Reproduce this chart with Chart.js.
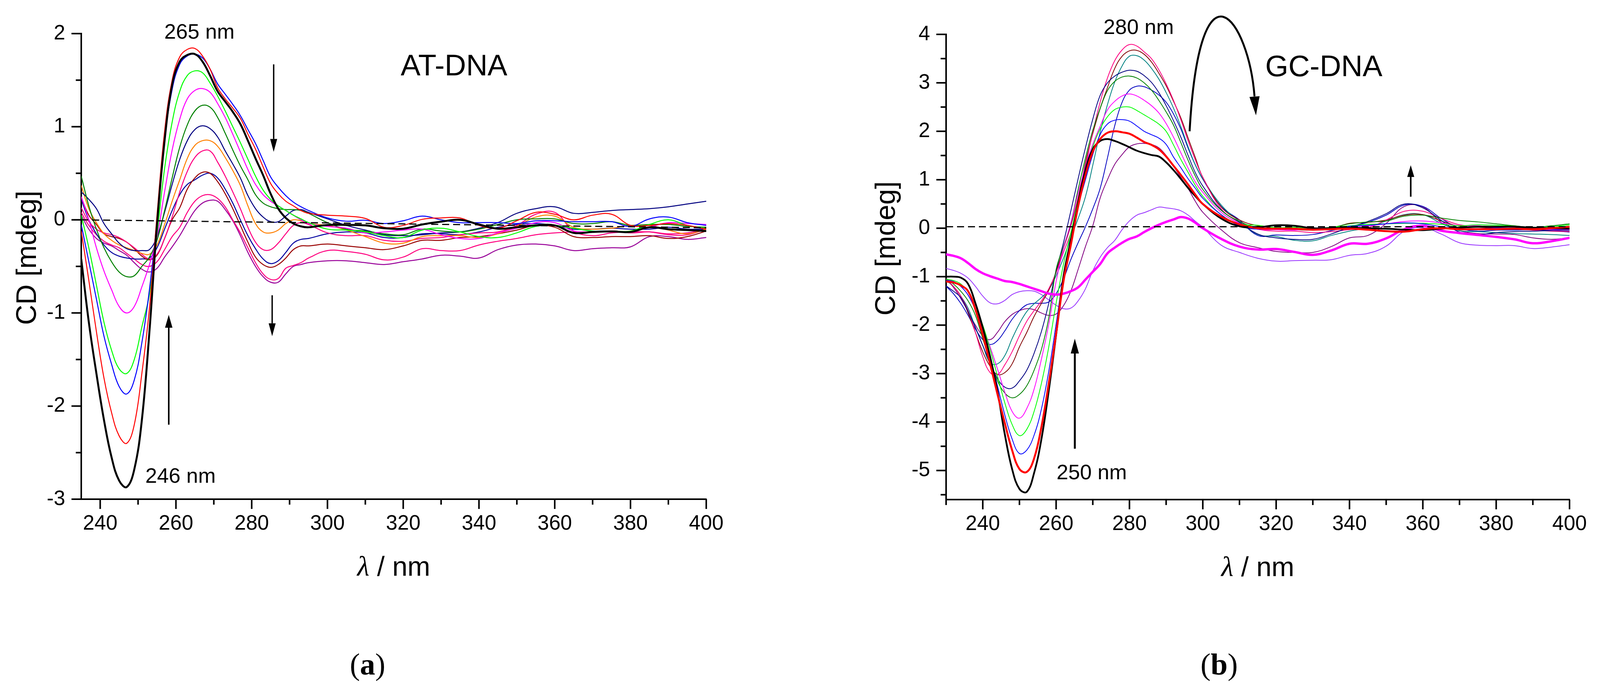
<!DOCTYPE html>
<html>
<head>
<meta charset="utf-8">
<script src="https://cdn.jsdelivr.net/npm/chart.js@4.4.1/dist/chart.umd.min.js"></script>
<style>
  html, body { margin: 0; padding: 0; background: #fff; }
  body { position: relative; width: 4103px; height: 1787px; overflow: hidden; }
  canvas { position: absolute; top: 0; }
  #cdA { left: 0; }
  #cdB { left: 2214px; }
  .cap { position: absolute; top: 1662px; font-family: "Liberation Serif", "Times New Roman", serif; font-size: 78px; line-height: 78px; transform: translateX(-50%); color: #000; }
</style>
</head>
<body>
<canvas id="cdA" width="2000" height="1560" style="width:2000px;height:1560px"></canvas>
<canvas id="cdB" width="1889" height="1560" style="width:1889px;height:1560px"></canvas>
<div class="cap" style="left:941px">(<b>a</b>)</div>
<div class="cap" style="left:3121px">(<b>b</b>)</div>
<script>
// ---------- (a) AT-DNA ----------
const wlA = [235, 237, 239, 241, 243, 245, 247, 249, 251, 253, 255, 257, 259, 261, 263, 265, 267, 269, 271, 273,
  275, 277, 279, 281, 283, 285, 287, 289, 291, 293, 295,
  300, 305, 310, 315, 320, 325, 330, 335, 340, 345, 350, 355, 360, 365, 370, 375, 380, 385, 390, 395, 400];

const atBlack = [-0.42, -1.1, -1.65, -2.15, -2.55, -2.8, -2.87, -2.68, -2.15, -1.2, -0.05, 0.85, 1.45, 1.7, 1.77, 1.78, 1.7, 1.55, 1.38, 1.27,
  1.16, 1.03, 0.85, 0.66, 0.48, 0.28, 0.12, 0.02, -0.04, -0.07, -0.08,
  -0.055, -0.055, -0.06, -0.09, -0.095, -0.05, -0.02, 0.0, -0.05, -0.095, -0.08, -0.06, -0.06, -0.14, -0.13, -0.125, -0.13, -0.08, -0.1, -0.11, -0.12];
const atRed = [-0.12, -0.65, -1.2, -1.7, -2.07, -2.32, -2.4, -2.2, -1.65, -0.95, 0.05, 0.95, 1.5, 1.75, 1.83, 1.84, 1.76, 1.62, 1.42, 1.3,
  1.2, 1.09, 0.92, 0.76, 0.57, 0.39, 0.28, 0.2, 0.15, 0.1, 0.07,
  0.05, 0.04, 0.015, -0.08, -0.06, 0.005, 0.02, 0.02, -0.06, -0.09, -0.01, 0.08, 0.06, 0.0, 0.05, 0.06, -0.06, -0.06, -0.04, -0.06, -0.1];
const atBlue = [-0.05, -0.45, -0.85, -1.25, -1.55, -1.79, -1.87, -1.72, -1.32, -0.75, 0.0, 0.85, 1.4, 1.67, 1.76, 1.78, 1.74, 1.62, 1.46, 1.35,
  1.24, 1.12, 0.97, 0.82, 0.64, 0.46, 0.35, 0.26, 0.19, 0.14, 0.1,
  0.02, -0.015, -0.005, -0.04, -0.01, 0.04, 0.0, -0.03, -0.03, -0.03, -0.04, -0.01, -0.01, -0.02, -0.02, -0.02, -0.07, 0.01, 0.03, -0.03, -0.06];
const atLime = [0.05, -0.3, -0.7, -1.1, -1.4, -1.6, -1.65, -1.5, -1.15, -0.8, -0.15, 0.55, 1.05, 1.38, 1.55, 1.6, 1.58, 1.47, 1.33, 1.17,
  1.0, 0.83, 0.65, 0.47, 0.32, 0.22, 0.15, 0.1, 0.05, 0.01, -0.03,
  -0.1, -0.11, -0.13, -0.17, -0.19, -0.11, -0.09, -0.13, -0.18, -0.19, -0.14, -0.07, -0.06, -0.09, -0.12, -0.12, -0.12, -0.05, 0.0, -0.06, -0.09];
const atMagenta = [0.25, 0.0, -0.3, -0.55, -0.75, -0.93, -1.0, -0.93, -0.72, -0.48, -0.18, 0.3, 0.75, 1.08, 1.3, 1.39, 1.41, 1.37, 1.25, 1.1,
  0.92, 0.73, 0.54, 0.38, 0.27, 0.2, 0.15, 0.1, 0.05, 0.0, -0.04,
  -0.07, -0.09, -0.14, -0.13, -0.11, -0.1, -0.16, -0.2, -0.2, -0.14, -0.09, -0.03, -0.03, -0.12, -0.13, -0.12, -0.13, -0.08, -0.03, -0.04, -0.05];
const atGreen = [0.47, 0.15, -0.1, -0.3, -0.45, -0.56, -0.61, -0.6, -0.5, -0.4, -0.22, 0.1, 0.45, 0.78, 1.02, 1.17, 1.23, 1.21, 1.1, 0.93,
  0.75, 0.58, 0.43, 0.27, 0.18, 0.14, 0.12, 0.11, 0.11, 0.1, 0.07,
  -0.03, -0.1, -0.12, -0.15, -0.16, -0.1, -0.12, -0.13, -0.1, -0.05, 0.0, 0.01, 0.01, -0.04, -0.04, -0.02, -0.06, -0.05, -0.05, -0.07, -0.08];
const atNavy = [0.3, 0.22, 0.12, -0.04, -0.15, -0.25, -0.31, -0.33, -0.33, -0.32, -0.18, 0.08, 0.38, 0.65, 0.85, 0.97, 1.01, 0.98, 0.89, 0.74,
  0.6, 0.45, 0.26, 0.12, 0.03, -0.02, -0.02, 0.04, 0.1, 0.11, 0.08,
  0.01, -0.06, -0.11, -0.16, -0.17, -0.16, -0.14, -0.13, -0.09, -0.03, 0.07, 0.12, 0.14, 0.07, 0.08, 0.1, 0.11, 0.12, 0.14, 0.17, 0.2];
const atOrange = [0.37, 0.12, -0.03, -0.15, -0.22, -0.27, -0.3, -0.33, -0.36, -0.37, -0.27, -0.05, 0.2, 0.43, 0.66, 0.8, 0.85, 0.85, 0.79, 0.67,
  0.53, 0.37, 0.15, -0.04, -0.13, -0.14, -0.11, -0.04, 0.0, -0.01, -0.04,
  -0.06, -0.11, -0.18, -0.25, -0.25, -0.18, -0.17, -0.17, -0.19, -0.15, -0.07, 0.03, 0.04, -0.08, -0.1, -0.09, -0.06, -0.06, -0.11, -0.15, -0.1];
const atPink = [0.13, -0.02, -0.1, -0.14, -0.16, -0.19, -0.24, -0.3, -0.37, -0.42, -0.37, -0.2, 0.03, 0.3, 0.52, 0.67, 0.74, 0.74, 0.62, 0.47,
  0.3, 0.12, -0.08, -0.24, -0.32, -0.32, -0.25, -0.15, -0.06, -0.03, -0.05,
  -0.14, -0.17, -0.17, -0.22, -0.23, -0.2, -0.19, -0.16, -0.14, -0.13, -0.06, 0.06, 0.08, -0.12, -0.17, -0.14, -0.13, -0.13, -0.16, -0.16, -0.1];
const atMaroon = [0.24, 0.05, -0.05, -0.15, -0.18, -0.2, -0.24, -0.31, -0.39, -0.43, -0.38, -0.2, 0.0, 0.13, 0.33, 0.45, 0.51, 0.5, 0.41, 0.28,
  0.12, -0.06, -0.24, -0.4, -0.48, -0.51, -0.48, -0.41, -0.32, -0.28, -0.28,
  -0.26, -0.28, -0.3, -0.32, -0.28, -0.22, -0.22, -0.19, -0.18, -0.15, -0.11, -0.06, -0.08, -0.18, -0.19, -0.18, -0.18, -0.17, -0.2, -0.18, -0.12];
const atNavy2 = [0.22, 0.0, -0.15, -0.27, -0.35, -0.39, -0.41, -0.42, -0.42, -0.41, -0.3, -0.1, 0.1, 0.27, 0.38, 0.43, 0.48, 0.5, 0.45, 0.33,
  0.18, 0.0, -0.17, -0.31, -0.42, -0.47, -0.44, -0.35, -0.25, -0.21, -0.2,
  -0.15, -0.13, -0.14, -0.19, -0.19, -0.15, -0.15, -0.16, -0.13, -0.08, -0.05, -0.04, -0.06, -0.1, -0.1, -0.09, -0.1, -0.1, -0.08, -0.1, -0.1];
const atPink2 = [0.08, -0.06, -0.16, -0.23, -0.27, -0.3, -0.36, -0.42, -0.48, -0.5, -0.45, -0.32, -0.18, -0.08, 0.08, 0.2, 0.26, 0.27, 0.23, 0.14,
  0.0, -0.14, -0.3, -0.46, -0.58, -0.64, -0.63, -0.52, -0.49, -0.46, -0.41,
  -0.33, -0.34, -0.37, -0.43, -0.4, -0.31, -0.33, -0.33, -0.27, -0.23, -0.2, -0.16, -0.14, -0.13, -0.13, -0.12, -0.14, -0.13, -0.15, -0.14, -0.1];
const atPurple = [0.05, -0.1, -0.2, -0.25, -0.28, -0.33, -0.38, -0.46, -0.53, -0.56, -0.52, -0.4, -0.29, -0.17, -0.03, 0.1, 0.18, 0.21, 0.2, 0.11,
  -0.01, -0.17, -0.35, -0.5, -0.61, -0.67, -0.67, -0.58, -0.5, -0.48, -0.46,
  -0.44, -0.44, -0.46, -0.48, -0.45, -0.42, -0.38, -0.39, -0.41, -0.32, -0.27, -0.26, -0.28, -0.33, -0.31, -0.3, -0.29, -0.18, -0.18, -0.21, -0.19];
const zeroWlA = [235, 400];
const zeroA = [0, -0.085];

const xMajorA = [240, 260, 280, 300, 320, 340, 360, 380, 400];
const xMinorA = [250, 270, 290, 310, 330, 350, 370, 390];
const yMajorA = [-3, -2, -1, 0, 1, 2];
const yMinorA = [-2.5, -1.5, -0.5, 0.5, 1.5];

// ---------- (b) GC-DNA ----------
const wlB = [230, 232, 234, 236, 238, 240, 242, 244, 246, 248, 250, 252, 254, 256, 258, 260, 262, 264, 266, 268,
  270, 272, 274, 276, 278, 280, 282, 284, 286, 288, 290, 292, 294, 296, 298, 300,
  305, 310, 315, 320, 325, 330, 335, 340, 345, 350, 355, 360, 365, 370, 375, 380, 385, 390, 395, 400];

const gcBlack = [-1.0, -1.0, -1.02, -1.15, -1.55, -2.05, -2.65, -3.36, -4.25, -4.97, -5.38, -5.44, -5.05, -4.35, -3.35, -2.2, -1.0, -0.25, 0.5, 1.2,
  1.63, 1.8, 1.84, 1.8, 1.74, 1.67, 1.6, 1.55, 1.51, 1.48, 1.36, 1.2, 1.02, 0.83, 0.66, 0.5,
  0.2, 0.04, 0.02, 0.06, 0.05, 0.0, 0.0, 0.01, 0.0, -0.01, -0.03, -0.04, -0.01, 0.01, 0.03, 0.03, 0.03, 0.01, 0.0, -0.01];
const gcRed = [-1.1, -1.12, -1.18, -1.3, -1.68, -2.2, -2.8, -3.42, -4.02, -4.58, -4.97, -5.03, -4.75, -4.1, -3.2, -2.18, -1.1, -0.35, 0.45, 1.1,
  1.58, 1.84, 1.97, 2.0, 1.98, 1.95, 1.87, 1.78, 1.72, 1.63, 1.48, 1.29, 1.1, 0.9, 0.69, 0.5,
  0.24, 0.08, 0.0, -0.01, -0.01, -0.03, -0.02, -0.01, -0.03, -0.06, -0.07, -0.02, 0.0, -0.02, -0.02, -0.02, -0.01, -0.02, 0.0, 0.03];
const gcBlue = [-1.08, -1.1, -1.2, -1.38, -1.68, -2.08, -2.65, -3.25, -3.85, -4.35, -4.65, -4.58, -4.27, -3.73, -2.95, -1.98, -0.98, -0.22, 0.45, 1.0,
  1.52, 1.93, 2.15, 2.23, 2.24, 2.21, 2.11, 2.0, 1.93, 1.86, 1.73, 1.47, 1.25, 1.02, 0.82, 0.62,
  0.28, 0.05, -0.02, 0.0, 0.0, -0.03, -0.01, 0.04, 0.06, 0.09, 0.11, 0.09, 0.03, -0.01, -0.01, 0.0, 0.0, 0.01, -0.02, -0.02];
const gcLime = [-1.05, -1.08, -1.15, -1.32, -1.65, -2.0, -2.5, -3.05, -3.6, -4.05, -4.28, -4.15, -3.78, -3.2, -2.45, -1.55, -0.75, -0.1, 0.55, 1.18,
  1.68, 2.05, 2.3, 2.45, 2.5, 2.5, 2.43, 2.34, 2.25, 2.15, 2.0, 1.72, 1.42, 1.15, 0.88, 0.66,
  0.28, 0.09, 0.06, 0.01, 0.02, -0.01, 0.02, 0.05, 0.08, 0.09, 0.1, 0.1, 0.08, 0.05, 0.07, 0.06, 0.04, 0.01, 0.03, 0.07];
const gcMagenta = [-1.05, -1.1, -1.2, -1.38, -1.68, -2.03, -2.45, -2.9, -3.38, -3.78, -3.92, -3.72, -3.32, -2.7, -1.98, -1.1, -0.42, 0.1, 0.72, 1.28,
  1.73, 2.1, 2.44, 2.62, 2.73, 2.77, 2.73, 2.64, 2.53, 2.38, 2.16, 1.88, 1.56, 1.24, 0.95, 0.74,
  0.33, 0.1, -0.02, -0.03, -0.04, 0.0, 0.01, 0.03, 0.05, 0.09, 0.14, 0.15, 0.11, 0.05, 0.05, 0.01, 0.0, -0.01, -0.03, -0.03];
const gcGreen = [-1.05, -1.15, -1.3, -1.5, -1.8, -2.28, -2.75, -3.15, -3.4, -3.5, -3.43, -3.25, -2.93, -2.5, -1.85, -0.85, -0.38, 0.1, 0.8, 1.45,
  2.02, 2.47, 2.84, 3.03, 3.12, 3.14, 3.1, 3.0, 2.85, 2.64, 2.4, 2.13, 1.77, 1.4, 1.07, 0.8,
  0.37, 0.14, 0.01, -0.01, -0.02, -0.03, 0.01, 0.09, 0.13, 0.15, 0.25, 0.27, 0.21, 0.16, 0.13, 0.09, 0.05, 0.02, 0.05, 0.09];
const gcNavy = [-1.19, -1.3, -1.43, -1.72, -2.05, -2.42, -2.78, -3.1, -3.28, -3.3, -3.15, -2.93, -2.58, -2.13, -1.55, -0.88, -0.3, 0.35, 1.02, 1.66,
  2.25, 2.74, 3.0, 3.14, 3.22, 3.26, 3.24, 3.15, 3.01, 2.8, 2.53, 2.22, 1.88, 1.5, 1.14, 0.87,
  0.38, 0.12, -0.12, -0.2, -0.23, -0.23, -0.12, 0.02, 0.14, 0.3, 0.5, 0.42, 0.16, -0.08, -0.13, -0.09, -0.07, -0.06, -0.05, -0.05];
const gcPink = [-1.05, -1.2, -1.4, -1.7, -2.15, -2.65, -2.98, -3.02, -2.82, -2.55, -2.22, -1.92, -1.7, -1.5, -1.25, -0.92, -0.5, -0.1, 0.45, 1.25,
  1.98, 2.6, 3.1, 3.46, 3.68, 3.79, 3.76, 3.64, 3.5, 3.27, 2.98, 2.64, 2.24, 1.8, 1.4, 1.05,
  0.4, 0.12, -0.02, -0.06, -0.06, -0.09, -0.07, -0.03, 0.01, 0.17, 0.35, 0.35, 0.2, 0.07, 0.04, 0.01, -0.01, -0.04, -0.06, -0.07];
const gcMaroon = [-1.05, -1.2, -1.4, -1.75, -2.15, -2.55, -2.85, -3.02, -2.98, -2.8, -2.45, -2.15, -1.82, -1.55, -1.28, -0.9, -0.42, 0.05, 0.62, 1.35,
  1.95, 2.47, 2.9, 3.3, 3.55, 3.66, 3.67, 3.59, 3.43, 3.2, 2.94, 2.62, 2.28, 1.86, 1.45, 1.05,
  0.44, 0.17, 0.05, 0.0, -0.03, -0.04, -0.01, 0.1, 0.12, 0.17, 0.27, 0.28, 0.15, 0.04, 0.02, 0.0, 0.0, -0.02, -0.03, 0.01];
const gcTeal = [-1.08, -1.2, -1.4, -1.65, -2.05, -2.42, -2.78, -2.8, -2.63, -2.28, -1.97, -1.72, -1.56, -1.43, -1.27, -0.98, -0.62, -0.2, 0.2, 0.65,
  1.3, 1.98, 2.55, 3.02, 3.35, 3.55, 3.56, 3.47, 3.3, 3.08, 2.8, 2.48, 2.1, 1.68, 1.3, 1.02,
  0.48, 0.14, -0.13, -0.17, -0.25, -0.26, -0.15, -0.06, 0.01, 0.15, 0.28, 0.28, 0.1, -0.05, -0.07, -0.09, -0.11, -0.12, -0.13, -0.15];
const gcBlue2 = [-1.2, -1.35, -1.55, -1.8, -2.08, -2.3, -2.4, -2.32, -2.12, -1.88, -1.7, -1.58, -1.55, -1.55, -1.52, -1.35, -1.05, -0.65, -0.3, 0.03,
  0.4, 0.82, 1.45, 2.12, 2.6, 2.85, 2.93, 2.92, 2.85, 2.75, 2.6, 2.36, 2.05, 1.65, 1.3, 1.01,
  0.45, 0.17, -0.15, -0.14, -0.15, -0.13, -0.05, 0.03, 0.12, 0.27, 0.48, 0.45, 0.2, 0.0, -0.06, -0.04, -0.04, -0.03, -0.05, -0.08];
const gcPurple = [-1.05, -1.22, -1.45, -1.72, -2.0, -2.22, -2.3, -2.15, -1.93, -1.78, -1.7, -1.66, -1.68, -1.75, -1.8, -1.77, -1.6, -1.3, -0.85, -0.38,
  0.05, 0.62, 1.0, 1.32, 1.52, 1.68, 1.74, 1.75, 1.73, 1.66, 1.5, 1.28, 1.05, 0.82, 0.55, 0.33,
  -0.03, -0.3, -0.4, -0.48, -0.5, -0.5, -0.38, -0.2, -0.15, 0.1, 0.45, 0.44, 0.12, -0.05, -0.11, -0.12, -0.13, -0.2, -0.23, -0.2];
const gcViolet = [-0.83, -0.87, -0.93, -1.03, -1.2, -1.4, -1.54, -1.56, -1.49, -1.37, -1.31, -1.29, -1.3, -1.37, -1.48, -1.59, -1.66, -1.65, -1.5, -1.25,
  -0.88, -0.6, -0.4, -0.25, -0.03, 0.15, 0.27, 0.32, 0.38, 0.435, 0.42, 0.4, 0.36, 0.27, 0.14, 0.02,
  -0.35, -0.5, -0.62, -0.68, -0.67, -0.66, -0.65, -0.56, -0.52, -0.37, -0.06, 0.01, -0.12, -0.3, -0.35, -0.36, -0.36, -0.42, -0.39, -0.34];
const gcMagentaBold = [-0.54, -0.57, -0.62, -0.72, -0.84, -0.93, -0.99, -1.04, -1.09, -1.11, -1.15, -1.2, -1.25, -1.3, -1.35, -1.37, -1.35, -1.3, -1.22, -1.06,
  -0.9, -0.74, -0.52, -0.4, -0.3, -0.22, -0.17, -0.08, 0.0, 0.07, 0.13, 0.18, 0.23, 0.2, 0.11, 0.0,
  -0.22, -0.38, -0.44, -0.43, -0.49, -0.55, -0.46, -0.32, -0.32, -0.21, -0.02, 0.05, -0.05, -0.1, -0.14, -0.18, -0.23, -0.31, -0.27, -0.2];
const zeroWlB = [230, 400];
const zeroB = [0.03, 0.03];

const xMajorB = [240, 260, 280, 300, 320, 340, 360, 380, 400];
const xMinorB = [230, 250, 270, 290, 310, 330, 350, 370, 390];
const yMajorB = [-5, -4, -3, -2, -1, 0, 1, 2, 3, 4];
const yMinorB = [-5.5, -4.5, -3.5, -2.5, -1.5, -0.5, 0.5, 1.5, 2.5, 3.5];

// ---------- drawing ----------
const SANS = '"Liberation Sans", Arial, sans-serif';
const tickFont = { family: SANS, size: 53 };

function line(wl, vals, color, width) {
  return {
    data: wl.map((x, i) => ({ x: x, y: vals[i] })),
    borderColor: color, borderWidth: width,
    pointRadius: 0, fill: false, tension: 0.4
  };
}

function dashed(wl, vals) {
  return {
    data: wl.map((x, i) => ({ x: x, y: vals[i] })),
    borderColor: '#000', borderWidth: 3, borderDash: [18, 10],
    pointRadius: 0, fill: false, tension: 0
  };
}

function drawArrow(ctx, x0, y0, x1, y1, lw, hl, hw) {
  const a = Math.atan2(y1 - y0, x1 - x0);
  const bx = x1 - hl * Math.cos(a), by = y1 - hl * Math.sin(a);
  ctx.lineWidth = lw;
  ctx.beginPath(); ctx.moveTo(x0, y0); ctx.lineTo(bx, by); ctx.stroke();
  drawHead(ctx, x1, y1, a, hl, hw);
}

function drawHead(ctx, x1, y1, a, hl, hw) {
  const bx = x1 - hl * Math.cos(a), by = y1 - hl * Math.sin(a);
  ctx.beginPath();
  ctx.moveTo(x1, y1);
  ctx.lineTo(bx + hw / 2 * Math.sin(a), by - hw / 2 * Math.cos(a));
  ctx.lineTo(bx - hw / 2 * Math.sin(a), by + hw / 2 * Math.cos(a));
  ctx.closePath();
  ctx.fill();
}

const decor = {
  id: 'cdDecor',
  afterDraw(chart, args, o) {
    const { ctx, chartArea: ca } = chart;
    const sx = chart.scales.x, sy = chart.scales.y;
    const px = v => sx.getPixelForValue(v), py = v => sy.getPixelForValue(v);
    ctx.save();
    ctx.strokeStyle = '#000';
    ctx.fillStyle = '#000';
    ctx.lineCap = 'butt';

    // tick marks, major and minor
    ctx.lineWidth = 4;
    const seg = (a, b, c, d) => { ctx.beginPath(); ctx.moveTo(a, b); ctx.lineTo(c, d); ctx.stroke(); };
    o.xMajor.forEach(v => seg(px(v), ca.bottom, px(v), ca.bottom + 25));
    o.xMinor.forEach(v => seg(px(v), ca.bottom, px(v), ca.bottom + 14));
    o.yMajor.forEach(v => seg(ca.left, py(v), ca.left - 25, py(v)));
    o.yMinor.forEach(v => seg(ca.left, py(v), ca.left - 14, py(v)));

    // axis titles
    ctx.textAlign = 'center';
    ctx.textBaseline = 'middle';
    ctx.save();
    ctx.translate(ca.left + o.yTitle.dx, ca.top + o.yTitle.dy);
    ctx.rotate(-Math.PI / 2);
    ctx.font = '72px ' + SANS;
    ctx.fillText('CD [mdeg]', 0, 0);
    ctx.restore();

    const lam = 'λ', rest = ' / nm';
    ctx.font = 'italic 72px "Liberation Serif", serif';
    const w1 = ctx.measureText(lam).width;
    ctx.font = '70px ' + SANS;
    const w2 = ctx.measureText(rest).width;
    const cx = (ca.left + ca.right) / 2, by = ca.bottom + 196;
    ctx.textBaseline = 'alphabetic';
    ctx.textAlign = 'left';
    ctx.font = 'italic 72px "Liberation Serif", serif';
    ctx.fillText(lam, cx - (w1 + w2) / 2, by);
    ctx.font = '70px ' + SANS;
    ctx.fillText(rest, cx - (w1 + w2) / 2 + w1, by);

    // labels inside the plot
    ctx.textAlign = 'center';
    ctx.textBaseline = 'middle';
    o.texts.forEach(t => {
      ctx.font = t.size + 'px ' + SANS;
      ctx.fillText(t.text, px(t.x), py(t.y));
    });

    // straight arrows
    o.arrows.forEach(a => drawArrow(ctx, px(a.x0), py(a.y0), px(a.x1), py(a.y1), a.lw, a.hl, a.hw));

    // curved arrow
    (o.curves || []).forEach(c => {
      const P = c.pts.map(p => [px(p[0]), py(p[1])]);
      ctx.lineWidth = c.lw;
      ctx.beginPath();
      ctx.moveTo(P[0][0], P[0][1]);
      ctx.bezierCurveTo(P[1][0], P[1][1], P[2][0], P[2][1], P[3][0], P[3][1]);
      ctx.stroke();
      const tx = px(c.tip[0]), ty = py(c.tip[1]);
      const a = Math.atan2(ty - P[3][1], tx - P[3][0]);
      drawHead(ctx, tx, ty, a, c.hl, c.hw);
    });
    ctx.restore();
  }
};

function makeChart(id, cfg) {
  const ds = cfg.datasets;
  return new Chart(document.getElementById(id), {
    type: 'line',
    data: { datasets: ds },
    plugins: [decor],
    options: {
      responsive: false,
      devicePixelRatio: 1,
      animation: false,
      events: [],
      layout: { padding: cfg.padding },
      plugins: {
        legend: { display: false },
        tooltip: { enabled: false },
        cdDecor: cfg.decor
      },
      scales: {
        x: {
          type: 'linear', min: cfg.xMin, max: 400,
          afterBuildTicks: s => { s.ticks = cfg.decor.xMajor.map(v => ({ value: v })); },
          afterFit: s => { s.height = 120; s.paddingLeft = 0; s.paddingRight = 0; },
          grid: { display: false, drawTicks: false },
          border: { display: true, color: '#000', width: 4 },
          ticks: { font: tickFont, color: '#000', padding: 32, maxRotation: 0, autoSkip: false }
        },
        y: {
          type: 'linear', min: cfg.yMin, max: cfg.yMax,
          afterBuildTicks: s => { s.ticks = cfg.decor.yMajor.map(v => ({ value: v })); },
          afterFit: s => { s.width = 208; s.paddingTop = 0; s.paddingBottom = 0; },
          grid: { display: false, drawTicks: false },
          border: { display: true, color: '#000', width: 4 },
          ticks: { font: tickFont, color: '#000', padding: 41, autoSkip: false }
        }
      }
    }
  });
}

makeChart('cdA', {
  xMin: 235, yMin: -3, yMax: 2,
  padding: { left: 0, top: 86, right: 192, bottom: 162 },
  datasets: [
    dashed(zeroWlA, zeroA),
    line(wlA, atBlack, '#000000', 5),
    line(wlA, atRed, '#ff0000', 2.5),
    line(wlA, atBlue, '#0000ff', 2.5),
    line(wlA, atLime, '#00ff00', 2.5),
    line(wlA, atMagenta, '#ff00ff', 2.5),
    line(wlA, atGreen, '#008000', 2.5),
    line(wlA, atNavy, '#000080', 2.5),
    line(wlA, atOrange, '#ff8000', 2.5),
    line(wlA, atPink, '#ff0080', 2.5),
    line(wlA, atMaroon, '#990000', 2.5),
    line(wlA, atNavy2, '#0000a0', 2.5),
    line(wlA, atPink2, '#ff0080', 2.5),
    line(wlA, atPurple, '#990099', 2.5)
  ],
  decor: {
    xMajor: xMajorA, xMinor: xMinorA, yMajor: yMajorA, yMinor: yMinorA,
    yTitle: { dx: -136, dy: 574 },
    texts: [
      { text: '265 nm', x: 266.2, y: 2.01, size: 54 },
      { text: '246 nm', x: 261.2, y: -2.76, size: 54 },
      { text: 'AT-DNA', x: 333.4, y: 1.64, size: 76 }
    ],
    arrows: [
      { x0: 285.8, y0: 1.67, x1: 285.8, y1: 0.73, lw: 3.5, hl: 33, hw: 18 },
      { x0: 285.4, y0: -0.81, x1: 285.4, y1: -1.25, lw: 3.5, hl: 33, hw: 18 },
      { x0: 258.1, y0: -2.2, x1: 258.1, y1: -1.02, lw: 4, hl: 33, hw: 19 }
    ]
  }
});

makeChart('cdB', {
  xMin: 230, yMin: -5.6, yMax: 4,
  padding: { left: 0, top: 88, right: 85, bottom: 161 },
  datasets: [
    dashed(zeroWlB, zeroB),
    line(wlB, gcRed, '#ff0000', 5),
    line(wlB, gcBlack, '#000000', 4.5),
    line(wlB, gcMagentaBold, '#ff00ff', 6),
    line(wlB, gcBlue, '#0000ff', 2),
    line(wlB, gcLime, '#00ff00', 2),
    line(wlB, gcMagenta, '#ff00ff', 2),
    line(wlB, gcGreen, '#008000', 2),
    line(wlB, gcNavy, '#000080', 2),
    line(wlB, gcPink, '#ff0080', 2),
    line(wlB, gcMaroon, '#800000', 2),
    line(wlB, gcTeal, '#008080', 2),
    line(wlB, gcBlue2, '#0000c0', 2),
    line(wlB, gcPurple, '#800080', 2),
    line(wlB, gcViolet, '#9933ff', 2)
  ],
  decor: {
    xMajor: xMajorB, xMinor: xMinorB, yMajor: yMajorB, yMinor: yMinorB,
    yTitle: { dx: -151, dy: 548 },
    texts: [
      { text: '280 nm', x: 282.5, y: 4.13, size: 54 },
      { text: 'GC-DNA', x: 333.0, y: 3.31, size: 76 },
      { text: '250 nm', x: 269.7, y: -5.06, size: 54 }
    ],
    arrows: [
      { x0: 265.1, y0: -4.55, x1: 265.1, y1: -2.28, lw: 5, hl: 38, hw: 21 },
      { x0: 356.7, y0: 0.65, x1: 356.7, y1: 1.3, lw: 4, hl: 30, hw: 18 }
    ],
    curves: [
      { pts: [[296.4, 2.0], [299.2, 5.75], [312.5, 4.3], [314.1, 2.72]], tip: [314.5, 2.33], lw: 5, hl: 48, hw: 26 }
    ]
  }
});
</script>
</body>
</html>
